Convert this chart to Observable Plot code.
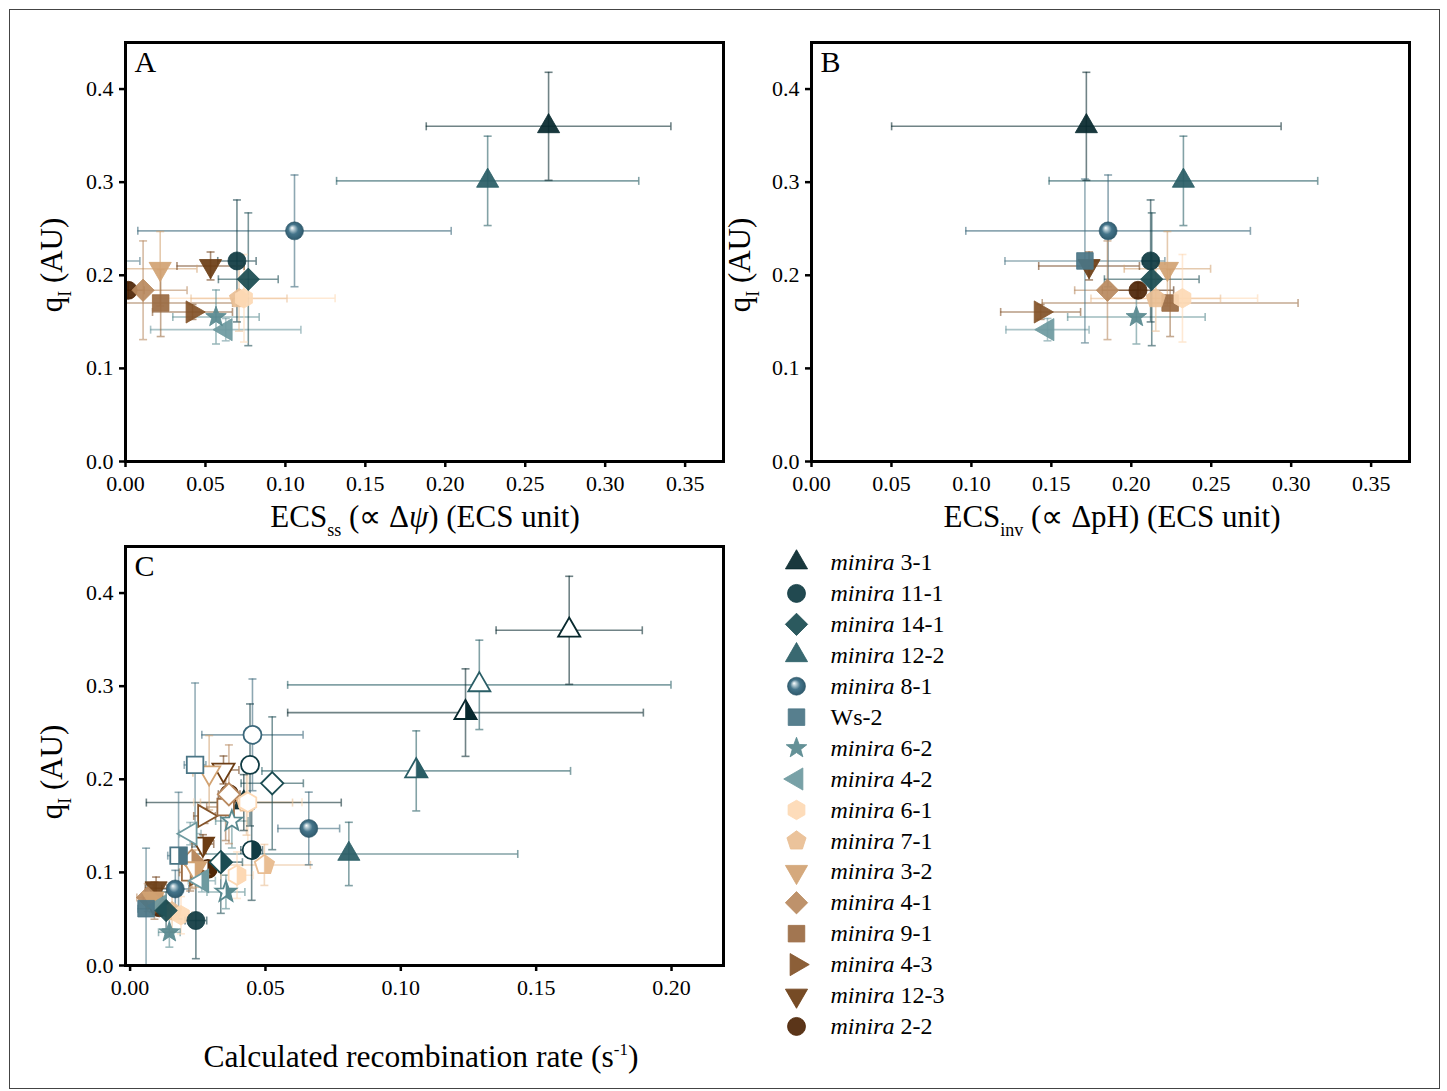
<!DOCTYPE html>
<html>
<head>
<meta charset="utf-8">
<script src="https://cdn.jsdelivr.net/npm/d3@7"></script>
<script src="https://cdn.jsdelivr.net/npm/@observablehq/plot@0.6"></script>
<style>
html,body{margin:0;padding:0;background:#fff;}
#root{position:relative;width:1447px;height:1091px;overflow:hidden;font-family:"Liberation Serif","Times New Roman",serif;color:#000;}
#border{position:absolute;left:9px;top:9px;width:1431px;height:1080px;border:1px solid #444;box-sizing:border-box;}
.panel{position:absolute;}
.xt{position:absolute;font-size:31px;line-height:31px;white-space:nowrap;transform:translateX(-50%);}
.yt{position:absolute;font-size:31px;line-height:31px;white-space:nowrap;transform:translate(-50%,-50%) rotate(-90deg);}
.sub{font-size:18px;vertical-align:-9px;}
.sup{font-size:17px;vertical-align:12px;}
</style>
</head>
<body>
<div id="root">
  <div id="border"></div>
  <div id="pA" class="panel" style="left:0px;top:0px"></div>
  <div id="pB" class="panel" style="left:686px;top:0px"></div>
  <div id="pC" class="panel" style="left:0px;top:504px"></div>
  <div id="leg" class="panel" style="left:770px;top:540px"></div>
  <div class="xt" style="left:425px;top:501px">ECS<span class="sub">ss</span> (∝ Δ<i>ψ</i>) (ECS unit)</div>
  <div class="xt" style="left:1112px;top:501px">ECS<span class="sub">inv</span> (∝ ΔpH) (ECS unit)</div>
  <div class="xt" style="left:421px;top:1034px;font-size:31.5px">Calculated recombination rate (s<span class="sup">-1</span>)</div>
  <div class="yt" style="left:58px;top:265px">q<span class="sub">I</span> (AU)</div>
  <div class="yt" style="left:746px;top:265px">q<span class="sub">I</span> (AU)</div>
  <div class="yt" style="left:58px;top:772px">q<span class="sub">I</span> (AU)</div>
</div>
<script>
// ---------------- data ----------------
const strains = ["3-1","11-1","14-1","12-2","8-1","Ws-2","6-2","4-2","6-1","7-1","3-2","4-1","9-1","4-3","12-3","2-2"];
const strainColors = ["#08292e","#103b43","#1b4c52","#2a5e66","#3a677a","#4a7585","#58898f","#6e9aa0","#fdd9b5","#e9be93","#d2a373","#b98a60","#9b6c44","#835329","#6c3d14","#4f2607"];
const strainShapes = ["triUp","circle","diamond","triUp","sphere","square","star","triLeft","hexagon","pentagon","triDown","diamond","square","triRight","triDown","circle"];

// q_I (shared by panels A, B and the open symbols of C)
const qI    = [0.360,0.2154,0.1957,0.3014,0.2477,0.2154,0.1552,0.1416,0.1753,0.175,0.207,0.1839,0.1702,0.1606,0.210,0.1839];
const qIerr = [0.058,0.0655,0.0713,0.048,0.060,0.088,0.029,0.012,0.047,0.035,0.040,0.053,0.036,0.008,0.015,0.008];

// Panel A: ECS_ss
const ecsSS    = [0.2646,0.0697,0.0768,0.2265,0.1057,-0.006,0.0566,0.0627,0.0741,0.071,0.0217,0.011,0.022,0.0419,0.0532,0.0017];
const ecsSSerr = [0.0765,0.012,0.0187,0.0945,0.098,0.015,0.027,0.047,0.057,0.030,0.023,0.0275,0.045,0.025,0.021,0.010];

// Panel B: ECS_inv
const ecsInv    = [0.1719,0.2121,0.2128,0.2326,0.1855,0.1710,0.2032,0.1476,0.2320,0.2153,0.2226,0.1851,0.2243,0.1433,0.1736,0.2042];
const ecsInvErr = [0.1218,0.005,0.0296,0.084,0.089,0.050,0.043,0.026,0.047,0.0405,0.027,0.0205,0.080,0.025,0.0315,0.0223];

// Panel C: recombination rate, three series (open, half-filled, filled)
const rateOpen    = [0.1622,0.0443,0.0525,0.129,0.0452,0.024,0.0376,0.0222,0.0435,0.043,0.0292,0.0365,0.0353,0.0275,0.0345,0.0366];
const rateOpenErr = [0.027,0.003,0.0115,0.0708,0.0187,0.004,0.006,0.004,0.020,0.017,0.006,0.003,0.007,0.004,0.0057,0.004];

const rateHalf    = [0.1239,0.0449,0.0335,0.1057,0.066,0.0179,0.0354,0.0265,0.0395,0.0496,0.024,0.0228,0.0222,0.0245,0.0269,0.0287];
const rateHalfErr = [0.0657,0.004,0.008,0.057,0.0114,0.004,0.007,0.005,0.006,0.017,0.005,0.004,0.004,0.003,0.004,0.004];
const qIHalf      = [0.2716,0.124,0.111,0.209,0.1472,0.118,0.079,0.091,0.097,0.108,0.104,0.1126,0.100,0.098,0.1305,0.1037];
const qIHalfErr   = [0.047,0.054,0.055,0.043,0.039,0.068,0.018,0.012,0.025,0.022,0.020,0.030,0.020,0.006,0.010,0.006];

const rateFill    = [0.042,0.0243,0.0133,0.0808,0.0167,0.0059,0.0145,0.011,0.0188,0.0155,0.0085,0.0065,0.009,0.0105,0.0096,0.0108];
const rateFillErr = [0.036,0.004,0.004,0.0624,0.005,0.003,0.004,0.003,0.004,0.003,0.004,0.004,0.004,0.003,0.004,0.003];
const qIFill      = [0.175,0.0483,0.059,0.1198,0.0822,0.061,0.0357,0.064,0.054,0.058,0.072,0.073,0.0697,0.066,0.083,0.062];
const qIFillErr   = [0.030,0.041,0.020,0.034,0.020,0.065,0.016,0.010,0.020,0.022,0.015,0.015,0.020,0.006,0.012,0.006];

const yTicks = [0, 0.1, 0.2, 0.3, 0.4];
const xTicksAB = [0, 0.05, 0.10, 0.15, 0.20, 0.25, 0.30, 0.35];
const xTicksC = [0, 0.05, 0.10, 0.15, 0.20];

// ---------------- symbols ----------------
function polygon(shape, r){
  const reg = (n, R, rot) => d3.range(n).map(k => { const a = rot + k*2*Math.PI/n; return [R*Math.cos(a), R*Math.sin(a)]; });
  switch(shape){
    case "triUp": return reg(3, 1.42*r, -Math.PI/2);
    case "triDown": return reg(3, 1.42*r, Math.PI/2);
    case "triLeft": return reg(3, 1.42*r, Math.PI);
    case "triRight": return reg(3, 1.42*r, 0);
    case "diamond": return reg(4, 1.24*r, -Math.PI/2);
    case "square": { const h = 0.92*r; return [[-h,-h],[h,-h],[h,h],[-h,h]]; }
    case "hexagon": return reg(6, 1.08*r, -Math.PI/2);
    case "pentagon": return reg(5, 1.12*r, -Math.PI/2);
    case "star": { const o = 1.2*r, i = 0.5*r; return d3.range(10).map(k => { const a = -Math.PI/2 + k*Math.PI/5; const R = k%2 ? i : o; return [R*Math.cos(a), R*Math.sin(a)]; }); }
  }
  return reg(4, r, 0);
}
function clipRight(pts){
  const out = [];
  for (let i = 0; i < pts.length; i++){
    const a = pts[i], b = pts[(i+1)%pts.length];
    const ain = a[0] >= -1e-9, bin = b[0] >= -1e-9;
    if (ain) out.push(a);
    if (ain !== bin){ const t = a[0]/(a[0]-b[0]); out.push([0, a[1] + t*(b[1]-a[1])]); }
  }
  return out;
}
function shapePath(ctx, shape, r, half){
  if (shape === "circle" || shape === "sphere"){
    const R = 1.0*r;
    if (half){ ctx.moveTo(0,-R); ctx.arc(0,0,R,-Math.PI/2,Math.PI/2); ctx.closePath(); }
    else { ctx.moveTo(R,0); ctx.arc(0,0,R,0,2*Math.PI); ctx.closePath(); }
    return;
  }
  let pts = polygon(shape, r);
  if (half) pts = clipRight(pts);
  pts.forEach((p,k) => k ? ctx.lineTo(p[0],p[1]) : ctx.moveTo(p[0],p[1]));
  ctx.closePath();
}
const symbolFor = (shape, half=false) => ({draw(ctx, size){ shapePath(ctx, shape, Math.sqrt(size/Math.PI), half); }});
const vcap = {draw(ctx,size){ const k = Math.sqrt(size/Math.PI); ctx.moveTo(0,-k); ctx.lineTo(0,k); }};
const hcap = {draw(ctx,size){ const k = Math.sqrt(size/Math.PI); ctx.moveTo(-k,0); ctx.lineTo(k,0); }};

function addGradient(svg, id){
  d3.select(svg).insert("defs", ":first-child").html(
    `<radialGradient id="${id}" cx="0.5" cy="0.5" r="0.55" fx="0.36" fy="0.33">
       <stop offset="0" stop-color="#ffffff"/>
       <stop offset="0.18" stop-color="#b9ced6"/>
       <stop offset="0.5" stop-color="#44748a"/>
       <stop offset="1" stop-color="#2c5668"/>
     </radialGradient>`);
}

const FONT = '"Liberation Serif", "Times New Roman", serif';

function markerMarks(row, gid){
  const base = {x: "x", y: "y", r: 9, clip: true};
  const out = [];
  if (row.shape === "sphere" && row.style !== "open"){
    out.push(Plot.dot([row], {...base, symbol: symbolFor("circle"), fill: `url(#${gid})`, stroke: "#2c5668", strokeWidth: 0.6}));
  } else if (row.style === "filled"){
    out.push(Plot.dot([row], {...base, symbol: symbolFor(row.shape), fill: row.color, fillOpacity: 0.93, stroke: row.color, strokeWidth: 0.8}));
  } else if (row.style === "open"){
    out.push(Plot.dot([row], {...base, symbol: symbolFor(row.shape), fill: "white", stroke: row.color, strokeWidth: 1.8}));
  } else {
    out.push(Plot.dot([row], {...base, symbol: symbolFor(row.shape), fill: "white", stroke: row.color, strokeWidth: 1.8}));
    out.push(Plot.dot([row], {...base, symbol: symbolFor(row.shape, true), fill: row.color, stroke: row.color, strokeWidth: 0.6}));
  }
  return out;
}

function buildPanel(el, {series, xDomain, xTicks, letter, gid}){
  const rows = [];
  series.forEach(s => strains.forEach((name, i) => rows.push({
    name, i, style: s.style, color: strainColors[i], shape: strainShapes[i],
    x: s.X[i], xe: s.XE[i], y: s.Y[i], ye: s.YE[i]
  })));
  const bar = {stroke: "color", strokeOpacity: 0.58, strokeWidth: 1.6, clip: true};
  const marks = [
    Plot.ruleY(rows, {y: "y", x1: d => d.x - d.xe, x2: d => d.x + d.xe, ...bar}),
    Plot.ruleX(rows, {x: "x", y1: d => d.y - d.ye, y2: d => d.y + d.ye, ...bar}),
    Plot.dot(rows, {x: d => d.x - d.xe, y: "y", symbol: vcap, r: 4, fill: "none", ...bar}),
    Plot.dot(rows, {x: d => d.x + d.xe, y: "y", symbol: vcap, r: 4, fill: "none", ...bar}),
    Plot.dot(rows, {x: "x", y: d => d.y - d.ye, symbol: hcap, r: 4, fill: "none", ...bar}),
    Plot.dot(rows, {x: "x", y: d => d.y + d.ye, symbol: hcap, r: 4, fill: "none", ...bar})
  ];
  const order = ["filled", "half", "open"];
  order.forEach(st => {
    for (let i = strains.length - 1; i >= 0; i--){
      const row = rows.find(r => r.style === st && r.i === i);
      if (row) marks.push(...markerMarks(row, gid));
    }
  });
  marks.push(
    Plot.axisY({ticks: yTicks, tickFormat: d3.format(".1f"), tickSize: 6, tickPadding: 6, strokeWidth: 2.5, fontSize: 22, label: null}),
    Plot.axisX({ticks: xTicks, tickFormat: d3.format(".2f"), tickSize: 6, tickPadding: 8, strokeWidth: 2.5, fontSize: 22, label: null}),
    Plot.frame({stroke: "black", strokeWidth: 3}),
    Plot.text([letter], {text: d => d, frameAnchor: "top-left", dx: 9, dy: 8, lineAnchor: "top", fontSize: 30, fill: "black"})
  );
  const svg = Plot.plot({
    width: 740, height: 545,
    marginLeft: 125, marginRight: 17, marginTop: 42, marginBottom: 84,
    x: {domain: xDomain}, y: {domain: [0, 0.45]},
    color: {type: "identity"},
    style: {fontFamily: FONT, fontSize: "22px", color: "#000", background: "transparent", overflow: "visible"},
    marks
  });
  addGradient(svg, gid);
  document.getElementById(el).appendChild(svg);
}

buildPanel("pA", {
  series: [{style: "filled", X: ecsSS, XE: ecsSSerr, Y: qI, YE: qIerr}],
  xDomain: [0, 0.374], xTicks: xTicksAB, letter: "A", gid: "sphA"
});
buildPanel("pB", {
  series: [{style: "filled", X: ecsInv, XE: ecsInvErr, Y: qI, YE: qIerr}],
  xDomain: [0, 0.374], xTicks: xTicksAB, letter: "B", gid: "sphB"
});
buildPanel("pC", {
  series: [
    {style: "open", X: rateOpen, XE: rateOpenErr, Y: qI, YE: qIerr},
    {style: "half", X: rateHalf, XE: rateHalfErr, Y: qIHalf, YE: qIHalfErr},
    {style: "filled", X: rateFill, XE: rateFillErr, Y: qIFill, YE: qIFillErr}
  ],
  xDomain: [-0.0017, 0.2192], xTicks: xTicksC, letter: "C", gid: "sphC"
});

// ---------------- legend ----------------
const legendRows = strains.map((s, i) => ({s, i, color: strainColors[i], shape: strainShapes[i], style: "filled",
  label: s === "Ws-2" ? s : "minira " + s, x: 0, y: i}));
const legMarks = [];
legendRows.forEach(row => legMarks.push(...markerMarks(row, "sphL")));
legMarks.push(Plot.text(legendRows, {x: () => 1, y: "y", text: "label", textAnchor: "start", fontSize: 24, fill: "black"}));
const leg = Plot.plot({
  width: 260, height: 510, margin: 0,
  x: {domain: [0, 1], range: [26, 60], axis: null},
  y: {domain: [0, strains.length - 1], range: [22, 22 + 15*30.93], axis: null},
  style: {fontFamily: FONT, fontSize: "24px", color: "#000", background: "transparent", overflow: "visible"},
  marks: legMarks
});
addGradient(leg, "sphL");
d3.select(leg).selectAll("text").each(function(){
  const t = this.textContent;
  if (t.startsWith("minira ")){
    const sel = d3.select(this);
    sel.text(null);
    sel.append("tspan").attr("font-style", "italic").text("minira");
    sel.append("tspan").text(" " + t.slice(7));
  }
});
document.getElementById("leg").appendChild(leg);
</script>
</body>
</html>
